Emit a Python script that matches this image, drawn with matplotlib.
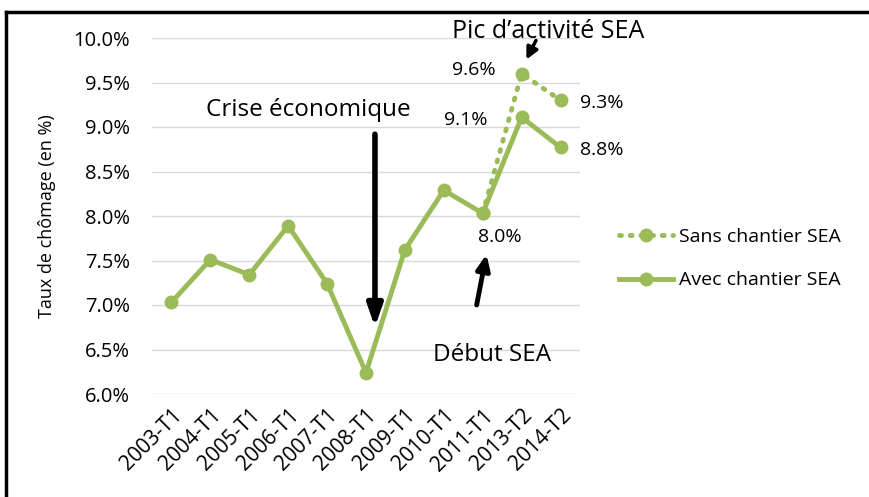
import matplotlib.pyplot as plt
import numpy as np
from matplotlib.lines import Line2D
from matplotlib.ticker import FuncFormatter

plt.rcParams['font.family'] = ['Open Sans', 'DejaVu Sans']

periodes = ['2003-T1', '2004-T1', '2005-T1', '2006-T1', '2007-T1', '2008-T1',
            '2009-T1', '2010-T1', '2011-T1', '2013-T2', '2014-T2']
avec = [7.03, 7.51, 7.34, 7.89, 7.24, 6.24, 7.62, 8.29, 8.03, 9.11, 8.77]
sans = [np.nan, np.nan, np.nan, np.nan, np.nan, np.nan,
        np.nan, np.nan, 8.03, 9.60, 9.30]

green = '#9BBB59'
x = np.arange(len(periodes))

fig = plt.figure(figsize=(8.69, 4.97), dpi=100)
ax = fig.add_axes([152/869, 1 - 394/497, 428/869, 356/497])

ax.plot(x, sans, color=green, lw=3.5, ls=(0, (0.4, 1.8)), dash_capstyle='round',
        marker='o', ms=9, label='Sans chantier SEA')
ax.plot(x, avec, color=green, lw=3.5, marker='o', ms=9, label='Avec chantier SEA')

ax.set_xlim(-0.5, len(periodes) - 0.5)
ax.set_ylim(6.0, 10.0)
ax.set_yticks(np.arange(6.0, 10.01, 0.5))
ax.yaxis.set_major_formatter(FuncFormatter(lambda v, p: f"{v:.1f}%"))
ax.set_xticks(x)
ax.set_xticklabels(periodes, rotation=45, ha='right', rotation_mode='anchor', fontsize=15)
ax.tick_params(axis='y', labelsize=14.5, length=0, pad=16)
ax.tick_params(axis='x', length=0, pad=8)
ax.grid(axis='y', color='#d9d9d9', lw=1)
ax.set_axisbelow(True)
for s in ax.spines.values():
    s.set_visible(False)
ax.set_ylabel('Taux de chômage (en %)', fontsize=13, labelpad=12)

# etiquettes de valeurs
ax.text(8.32, 9.64, '9.6%', fontsize=14, ha='right', va='center')
ax.text(8.11, 9.08, '9.1%', fontsize=14, ha='right', va='center')
ax.text(10.5, 9.27, '9.3%', fontsize=14, ha='left', va='center')
ax.text(10.5, 8.74, '8.8%', fontsize=14, ha='left', va='center')
ax.text(8.45, 7.76, '8.0%', fontsize=14, ha='center', va='center')

# annotations
ax.text(3.51, 9.19, 'Crise économique', fontsize=17.5, ha='center', va='center',
        bbox=dict(facecolor='white', edgecolor='none', pad=1))
ax.annotate('', xy=(5.23, 6.72), xytext=(5.23, 8.95),
            arrowprops=dict(arrowstyle='-|>,head_width=0.45,head_length=1.3', color='black', lw=4))
ax.text(8.24, 6.44, 'Début SEA', fontsize=17.5, ha='center', va='center')
ax.annotate('', xy=(8.11, 7.6), xytext=(7.83, 6.97),
            arrowprops=dict(arrowstyle='-|>,head_width=0.4,head_length=0.9', color='black', lw=3.5))
ax.text(9.68, 10.07, 'Pic d\u2019activité SEA', fontsize=18, ha='center', va='center', clip_on=False)
ax.annotate('', xy=(9.09, 9.73), xytext=(9.4, 10.0), annotation_clip=False,
            arrowprops=dict(arrowstyle='-|>,head_width=0.35,head_length=0.7', color='black', lw=2.5))

ax.legend(loc='center left', bbox_to_anchor=(1.05, 0.38), frameon=False, fontsize=14,
          handlelength=2.8, labelspacing=1.3, handletextpad=0.3)

# cadre
fig.add_artist(Line2D([6/869, 1], [1 - 12/497, 1 - 12/497], color='black', lw=2.5))
fig.add_artist(Line2D([6/869, 6/869], [0, 1 - 12/497], color='black', lw=2.5))

fig.savefig('out.png', dpi=100)
